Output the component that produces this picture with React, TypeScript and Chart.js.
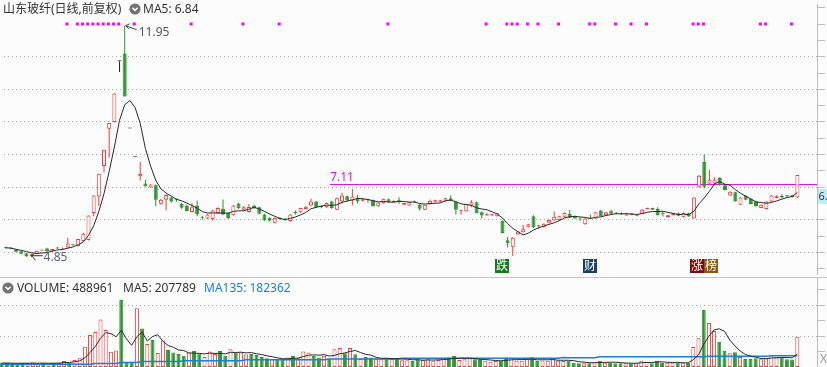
import React, { useEffect, useRef } from 'react';
import { Chart, registerables } from 'chart.js';

Chart.register(...registerables);

// ---------------- data ----------------
const TITLE = '山东玻纤(日线,前复权)';

const OPEN = [
  5.15, 5.13, 5.09, 5.03, 4.97, 4.88, 4.95, 5.06, 5.12, 5.03,
  5.13, 5.09, 5.15, 5.23, 5.19, 5.35, 5.38, 6.21, 6.71, 7.65,
  8.79, 9.00, 10.86, 11.10, 8.80, 7.92, 7.33, 7.11, 6.99, 7.06,
  6.49, 6.61, 6.68, 6.61, 6.48, 6.44, 6.24, 6.44, 6.07, 6.04,
  6.02, 6.21, 6.34, 6.21, 6.14, 6.50, 6.31, 6.24, 6.44, 6.38,
  6.16, 6.06, 5.91, 6.03, 6.01, 5.96, 6.24, 6.23, 6.33, 6.44,
  6.56, 6.40, 6.38, 6.56, 6.31, 6.56, 6.72, 6.58, 6.66, 6.58,
  6.61, 6.60, 6.41, 6.51, 6.63, 6.53, 6.60, 6.46, 6.44, 6.56,
  6.46, 6.31, 6.48, 6.55, 6.55, 6.58, 6.66, 6.56, 6.26, 6.26,
  6.44, 6.54, 6.23, 6.13, 6.13, 6.11, 5.96, 5.37, 5.17, 5.55,
  5.62, 5.77, 6.11, 5.81, 5.77, 5.91, 5.98, 5.99, 6.09, 6.18,
  6.11, 6.02, 5.86, 6.05, 6.04, 6.28, 6.14, 6.26, 6.20, 6.20,
  6.13, 6.19, 6.12, 6.19, 6.33, 6.36, 6.33, 6.19, 6.08, 6.14,
  6.20, 6.08, 6.20, 6.04, 7.01, 7.77, 7.11, 7.11, 7.28, 7.06,
  6.74, 6.84, 6.46, 6.74, 6.64, 6.56, 6.36, 6.33, 6.56, 6.67,
  6.73, 6.73, 6.75, 6.68,
];
const HIGH = [
  5.17, 5.15, 5.10, 5.05, 4.99, 4.96, 5.06, 5.08, 5.14, 5.11,
  5.16, 5.15, 5.45, 5.25, 5.42, 5.60, 6.13, 6.74, 7.41, 8.15,
  8.97, 9.87, 10.86, 11.95, 8.80, 7.92, 7.77, 7.23, 7.09, 7.08,
  6.64, 6.78, 6.70, 6.66, 6.52, 6.46, 6.51, 6.59, 6.12, 6.17,
  6.31, 6.38, 6.62, 6.23, 6.45, 6.52, 6.42, 6.48, 6.46, 6.40,
  6.18, 6.08, 6.07, 6.08, 6.06, 6.17, 6.28, 6.37, 6.42, 6.64,
  6.58, 6.44, 6.52, 6.58, 6.68, 6.83, 6.74, 6.94, 6.77, 6.64,
  6.64, 6.62, 6.54, 6.65, 6.65, 6.60, 6.69, 6.52, 6.55, 6.58,
  6.48, 6.47, 6.62, 6.61, 6.61, 6.67, 6.74, 6.58, 6.31, 6.49,
  6.60, 6.56, 6.25, 6.21, 6.18, 6.21, 5.98, 5.47, 5.46, 5.65,
  5.85, 5.87, 6.14, 5.85, 5.89, 5.99, 6.25, 6.12, 6.22, 6.30,
  6.13, 6.07, 6.05, 6.16, 6.24, 6.31, 6.24, 6.31, 6.23, 6.23,
  6.18, 6.20, 6.15, 6.32, 6.37, 6.37, 6.38, 6.27, 6.15, 6.21,
  6.22, 6.22, 6.22, 6.69, 7.37, 8.00, 7.53, 7.30, 7.31, 7.08,
  6.87, 6.86, 6.69, 6.76, 6.66, 6.58, 6.47, 6.57, 6.75, 6.75,
  6.79, 6.76, 6.77, 7.37,
];
const LOW = [
  5.12, 5.10, 5.00, 4.94, 4.86, 4.85, 4.94, 5.05, 5.00, 5.02,
  5.10, 5.08, 5.14, 5.20, 5.18, 5.33, 5.36, 6.11, 6.42, 7.45,
  7.90, 8.98, 10.53, 9.78, 8.80, 7.92, 7.20, 7.01, 6.98, 6.41,
  6.46, 6.28, 6.52, 6.55, 6.34, 6.25, 6.23, 6.11, 6.00, 6.02,
  5.98, 6.19, 6.14, 6.02, 6.12, 6.33, 6.30, 6.22, 6.33, 6.16,
  5.96, 5.95, 5.89, 6.00, 5.97, 5.94, 6.16, 6.21, 6.32, 6.42,
  6.37, 6.35, 6.36, 6.34, 6.30, 6.50, 6.57, 6.44, 6.50, 6.56,
  6.52, 6.40, 6.40, 6.50, 6.52, 6.52, 6.48, 6.45, 6.43, 6.52,
  6.28, 6.30, 6.47, 6.54, 6.54, 6.57, 6.57, 6.16, 6.16, 6.25,
  6.38, 6.20, 6.04, 6.12, 6.12, 6.10, 5.58, 5.15, 4.89, 5.54,
  5.61, 5.76, 5.75, 5.72, 5.76, 5.90, 5.97, 5.98, 6.08, 6.05,
  6.03, 5.97, 5.85, 6.02, 6.03, 6.10, 6.13, 6.17, 6.16, 6.16,
  6.12, 6.14, 6.11, 6.18, 6.32, 6.30, 6.13, 6.10, 6.07, 6.13,
  6.11, 6.07, 6.09, 6.03, 6.98, 6.96, 7.08, 7.10, 7.04, 6.90,
  6.73, 6.55, 6.45, 6.60, 6.47, 6.40, 6.35, 6.32, 6.55, 6.65,
  6.66, 6.69, 6.68, 6.66,
];
const CLOSE = [
  5.14, 5.12, 5.02, 4.96, 4.88, 4.94, 5.05, 5.07, 5.03, 5.10,
  5.12, 5.12, 5.27, 5.22, 5.41, 5.57, 6.13, 6.74, 7.41, 8.15,
  8.97, 9.87, 10.86, 9.78, 8.80, 7.92, 7.40, 7.03, 7.08, 6.61,
  6.61, 6.76, 6.56, 6.60, 6.37, 6.27, 6.38, 6.16, 6.06, 6.16,
  6.28, 6.36, 6.16, 6.05, 6.44, 6.35, 6.38, 6.39, 6.35, 6.18,
  5.98, 5.97, 6.05, 6.02, 6.00, 6.16, 6.20, 6.36, 6.40, 6.56,
  6.38, 6.39, 6.51, 6.36, 6.66, 6.74, 6.59, 6.71, 6.56, 6.63,
  6.60, 6.42, 6.53, 6.64, 6.53, 6.58, 6.54, 6.51, 6.54, 6.55,
  6.34, 6.46, 6.58, 6.60, 6.60, 6.66, 6.58, 6.31, 6.29, 6.48,
  6.54, 6.21, 6.13, 6.17, 6.17, 6.20, 5.59, 5.28, 5.45, 5.64,
  5.71, 5.86, 5.77, 5.80, 5.88, 5.99, 6.09, 6.11, 6.21, 6.06,
  6.04, 6.01, 6.04, 6.04, 6.23, 6.11, 6.23, 6.18, 6.19, 6.17,
  6.17, 6.15, 6.14, 6.31, 6.36, 6.31, 6.14, 6.18, 6.14, 6.20,
  6.12, 6.21, 6.10, 6.68, 7.35, 7.01, 7.23, 7.23, 7.06, 6.91,
  6.86, 6.56, 6.68, 6.61, 6.48, 6.41, 6.46, 6.56, 6.74, 6.72,
  6.68, 6.72, 6.70, 7.37,
];
const VOLUME = [
  64500, 64500, 56500, 56500, 64500, 64500, 72600, 48400, 64500, 56500,
  64500, 72600, 96800, 72600, 112900, 140300, 327400, 516100, 564500, 766100,
  596800, 246800, 266100, 1080600, 75800, 80600, 946800, 621000, 371000, 435500,
  225800, 427400, 274200, 233900, 209700, 180600, 233900, 258100, 217700, 161300,
  250000, 209700, 258100, 180600, 287100, 233900, 233900, 201600, 209700, 193500,
  161300, 140300, 125800, 121000, 121000, 153200, 177400, 140300, 250000, 233900,
  177400, 153200, 180600, 137100, 287100, 306500, 221000, 306500, 206500, 129000,
  161300, 153200, 132300, 125800, 137100, 129000, 145200, 108100, 108100, 96800,
  125800, 112900, 124200, 101600, 112900, 148400, 153200, 177400, 112900, 124200,
  140300, 124200, 112900, 101600, 85500, 96800, 101600, 153200, 140300, 101600,
  101600, 124200, 156500, 98500, 104300, 99800, 140300, 102400, 97600, 100900,
  69400, 59700, 59700, 59700, 85500, 101600, 69400, 69400, 59700, 59700,
  59700, 59700, 59700, 101600, 80600, 59700, 101600, 69400, 69400, 69400,
  69400, 59700, 69400, 322600, 462900, 919400, 709700, 580600, 408100, 261300,
  221000, 238700, 161300, 129000, 129000, 140300, 124200, 140300, 193500, 153200,
  153200, 124200, 119384, 488961,
];
const VOL_MA135 = [
  43500, 43500, 43500, 43500, 43500, 43500, 43500, 43500, 43500, 43500,
  43500, 43500, 43500, 43500, 43500, 43500, 43500, 43500, 56500, 56500,
  56500, 56500, 56500, 72600, 72600, 72600, 72600, 88700, 88700, 88700,
  88700, 88700, 88700, 88700, 88700, 101600, 101600, 101600, 101600, 101600,
  101600, 101600, 101600, 101600, 101600, 101600, 101600, 116100, 116100, 116100,
  116100, 116100, 116100, 116100, 116100, 116100, 116100, 116100, 116100, 116100,
  116100, 116100, 116100, 129000, 129000, 129000, 129000, 129000, 129000, 129000,
  129000, 129000, 129000, 129000, 129000, 129000, 129000, 141900, 141900, 141900,
  141900, 141900, 141900, 141900, 141900, 141900, 141900, 141900, 141900, 141900,
  141900, 141900, 141900, 141900, 141900, 141900, 141900, 141900, 141900, 141900,
  141900, 141900, 141900, 141900, 141900, 141900, 141900, 141900, 154800, 150000,
  150000, 150000, 150000, 150000, 150000, 164500, 164500, 164500, 164500, 164500,
  164500, 164500, 164500, 164500, 164500, 164500, 164500, 164500, 164500, 164500,
  164500, 164500, 164500, 164500, 164500, 164500, 174200, 174200, 174200, 174200,
  174200, 174200, 174200, 174200, 174200, 174200, 174200, 174200, 182362, 182362,
  182362, 182362, 182362, 182362,
];
const SIGNAL_DAYS = [12, 14, 15, 16, 17, 18, 19, 20, 21, 22, 25, 36, 46, 53, 74, 93, 97, 98, 99, 101,
  103, 107, 113, 114, 118, 121, 124, 133, 134, 135, 146, 147, 152];
const EVENT_DAYS = [96, 113, 135];
const EVENT_TEXT = [['跌'], ['财'], ['涨', '榜']];
const EVENT_COLORS = [['#16791a'], ['#173d6b'], ['#7a0c0c', '#8a5913']];
const PRICE_TICKS = [4.5, 5, 5.5, 6, 6.5, 7, 7.5, 8, 8.5, 9, 9.5, 10, 10.5, 11, 11.5, 12, 12.5];
const PRICE_GRID = [5, 6, 7, 8, 9, 10, 11];
const VOL_TICKS = [250000, 500000, 750000, 1000000, 1250000];
const VOL_GRID = [500000, 1000000];
const LEVEL_PRICE = 7.11;
const LEVEL_FROM_DAY = 62.7;
const TAG_PRICE = 6.72;

// ---------------- style ----------------
const W = 827;
const PRICE_H = 278;
const VOL_H = 89;
const AXIS_W = 10;
const X_MIN = -0.327;
const X_MAX = 156.788;
const PRICE_MIN = 4.3357;
const PRICE_MAX = 12.6169;
const VOL_MAX = 1435500;
const MARK_LEVEL = 0.926;
const BG = '#fcfcfc';
const RED = '#f23a3a';
const GREEN = '#2f912f';
const FLAT = '#222222';
const GRID = '#a9a9a9';
const AXIS = '#bcbcbc';
const MAGENTA = '#ff00ff';
const LEVEL_COLOR = '#e214e2';
const BLUE = '#1a7fd8';
const TEXT = '#333333';
const FONT = '"Noto Sans", "Noto Sans CJK SC", sans-serif';

Chart.defaults.font.family = FONT;

const DAYS = CLOSE.map((_, i) => i);
function movingAverage(values: number[], n: number) {
  return values.map((_, i) => {
    const s = values.slice(Math.max(0, i - n + 1), i + 1);
    return s.reduce((a, b) => a + b, 0) / s.length;
  });
}
const PRICE_MA5 = movingAverage(CLOSE, 5);
const VOL_MA5 = movingAverage(VOLUME, 5);
const dirOf = (i: number) => (CLOSE[i] > OPEN[i] ? 1 : CLOSE[i] < OPEN[i] ? -1 : 0);
const candleColor = DAYS.map((i) => (dirOf(i) > 0 ? RED : dirOf(i) < 0 ? GREEN : FLAT));
const bodyFill = DAYS.map((i) => (dirOf(i) > 0 ? BG : candleColor[i]));
const volUp = DAYS.map((i) => {
  const d = dirOf(i);
  if (d !== 0) return d > 0;
  return i === 0 || CLOSE[i] >= CLOSE[i - 1];
});

function axisY(ticks: number[], grid: number[], min: number, max: number) {
  return {
    type: 'linear',
    position: 'right',
    min,
    max,
    afterFit: (s: any) => { s.width = AXIS_W; },
    afterBuildTicks: (s: any) => { s.ticks = ticks.map((v) => ({ value: v })); },
    ticks: { display: false },
    grid: {
      color: (c: any) => (c.tick && grid.includes(c.tick.value) ? GRID : 'rgba(0,0,0,0)'),
      tickColor: AXIS,
      tickLength: 8,
      lineWidth: 1,
      drawTicks: true,
    },
    border: { display: true, color: AXIS, width: 1, dash: [1, 3] },
  };
}

const xAxis = { type: 'linear', min: X_MIN, max: X_MAX, display: false, offset: false, grid: { offset: false } };

const priceDecor = {
  id: 'priceDecor',
  beforeDatasetsDraw(chart: any) {
    const { ctx, chartArea, scales } = chart;
    const xs = scales.x;
    const ys = scales.y;
    const y = Math.round(ys.getPixelForValue(LEVEL_PRICE)) + 0.5;
    const x0 = xs.getPixelForValue(LEVEL_FROM_DAY);
    ctx.save();
    ctx.strokeStyle = LEVEL_COLOR;
    ctx.lineWidth = 1;
    ctx.beginPath();
    ctx.moveTo(x0, y);
    ctx.lineTo(chartArea.right, y);
    ctx.stroke();
    ctx.fillStyle = LEVEL_COLOR;
    ctx.font = `12px ${FONT}`;
    ctx.textAlign = 'left';
    ctx.textBaseline = 'alphabetic';
    ctx.fillText(LEVEL_PRICE.toFixed(2), x0, y - 4);
    ctx.restore();
  },
  afterDatasetsDraw(chart: any) {
    const { ctx, chartArea, scales } = chart;
    const xs = scales.x;
    const ys = scales.y;
    ctx.save();
    ctx.font = `12px ${FONT}`;
    ctx.lineWidth = 1;
    // highest price
    const hiDay = HIGH.indexOf(Math.max(...HIGH));
    const hx = xs.getPixelForValue(hiDay);
    const hy = ys.getPixelForValue(HIGH[hiDay]);
    ctx.strokeStyle = '#444';
    ctx.beginPath();
    ctx.moveTo(hx + 1, hy);
    ctx.lineTo(hx + 12, hy + 4);
    ctx.moveTo(hx + 1, hy);
    ctx.lineTo(hx + 5, hy - 2);
    ctx.moveTo(hx + 1, hy);
    ctx.lineTo(hx + 4, hy + 3);
    ctx.stroke();
    ctx.fillStyle = '#555';
    ctx.textAlign = 'left';
    ctx.textBaseline = 'middle';
    ctx.fillText(HIGH[hiDay].toFixed(2), hx + 14, hy + 7);
    // lowest price
    const loDay = LOW.indexOf(Math.min(...LOW));
    const lx = xs.getPixelForValue(loDay);
    const ly = ys.getPixelForValue(LOW[loDay]);
    ctx.strokeStyle = '#333';
    ctx.beginPath();
    ctx.moveTo(lx, ly - 1.5);
    ctx.lineTo(lx + 11, ly - 1.5);
    ctx.moveTo(lx, ly - 1.5);
    ctx.lineTo(lx + 3, ly - 4);
    ctx.moveTo(lx, ly - 1.5);
    ctx.lineTo(lx + 4, ly + 3);
    ctx.stroke();
    ctx.fillStyle = '#56647e';
    ctx.fillText(LOW[loDay].toFixed(2), lx + 12, ly);
    // event icons
    const bw = 14;
    const bh = 14;
    const bottom = chartArea.bottom - 1;
    EVENT_DAYS.forEach((d, k) => {
      const labels = EVENT_TEXT[k];
      const left = Math.round(xs.getPixelForValue(d) - (bw * labels.length) / 2);
      labels.forEach((t, j) => {
        const bx = left + j * bw;
        ctx.fillStyle = EVENT_COLORS[k][j];
        ctx.fillRect(bx, bottom - bh, bw, bh);
        ctx.fillStyle = '#ffffff';
        ctx.textAlign = 'center';
        ctx.textBaseline = 'middle';
        ctx.fillText(t, bx + bw / 2, bottom - bh / 2 + 0.5);
      });
    });
    ctx.restore();
  },
  afterDraw(chart: any) {
    const { ctx, chartArea, scales } = chart;
    const ys = scales.y;
    const ty = ys.getPixelForValue(TAG_PRICE);
    ctx.save();
    ctx.fillStyle = '#bdeef6';
    ctx.fillRect(chartArea.right + 1, Math.round(ty - 7.5), 40, 15);
    ctx.fillStyle = TEXT;
    ctx.font = `11px ${FONT}`;
    ctx.textAlign = 'left';
    ctx.textBaseline = 'middle';
    ctx.fillText(TAG_PRICE.toFixed(2), chartArea.right + 1.5, ty + 0.5);
    ctx.fillStyle = '#c4c4c4';
    ctx.fillRect(0, chart.height - 1, chart.width, 1);
    ctx.restore();
  },
};

const volDecor = {
  id: 'volDecor',
  afterDraw(chart: any) {
    const { ctx, chartArea } = chart;
    ctx.save();
    ctx.fillStyle = '#9a9a9a';
    ctx.font = `12px ${FONT}`;
    ctx.textAlign = 'left';
    ctx.textBaseline = 'alphabetic';
    ctx.fillText('X', chartArea.right + 3, chart.height - 4);
    ctx.restore();
  },
};

function priceConfig(): any {
  return {
    type: 'bar',
    data: {
      datasets: [
        {
          type: 'line', label: 'MA5', data: DAYS.map((i) => ({ x: i, y: PRICE_MA5[i] })),
          borderColor: '#2a2a2a', borderWidth: 1, pointRadius: 0, tension: 0, order: 0,
        },
        {
          type: 'scatter', label: 'signal', yAxisID: 'mk',
          data: SIGNAL_DAYS.map((d) => ({ x: d - 0.15, y: MARK_LEVEL })),
          pointStyle: 'rect', pointRadius: 2.1, pointBackgroundColor: MAGENTA, pointBorderWidth: 0, order: 0,
        },
        {
          type: 'bar', label: 'body',
          data: DAYS.map((i) => ({ x: i, y: [Math.min(OPEN[i], CLOSE[i]), Math.max(OPEN[i], CLOSE[i])] })),
          backgroundColor: bodyFill, borderColor: candleColor, borderWidth: 1, borderSkipped: false,
          barThickness: 4, maxBarThickness: 4, minBarLength: 1, grouped: false, inflateAmount: 0, order: 1,
        },
        {
          type: 'bar', label: 'wick',
          data: DAYS.map((i) => ({ x: i, y: [LOW[i], HIGH[i]] })),
          backgroundColor: candleColor, borderWidth: 0,
          barThickness: 1, maxBarThickness: 1, grouped: false, inflateAmount: 0, order: 2,
        },
      ],
    },
    options: {
      responsive: false,
      animation: false,
      devicePixelRatio: 1,
      events: [],
      layout: { padding: 0 },
      plugins: { legend: { display: false }, tooltip: { enabled: false }, title: { display: false } },
      scales: {
        x: xAxis,
        y: axisY(PRICE_TICKS, PRICE_GRID, PRICE_MIN, PRICE_MAX),
        mk: { type: 'linear', display: false, min: 0, max: 1 },
      },
    },
    plugins: [priceDecor],
  };
}

function volConfig(): any {
  return {
    type: 'bar',
    data: {
      datasets: [
        {
          type: 'line', label: 'MA5', data: DAYS.map((i) => ({ x: i, y: VOL_MA5[i] })),
          borderColor: '#2a2a2a', borderWidth: 1, pointRadius: 0, tension: 0, order: 0,
        },
        {
          type: 'line', label: 'MA135', data: DAYS.map((i) => ({ x: i, y: VOL_MA135[i] })),
          borderColor: BLUE, borderWidth: 1.5, pointRadius: 0, tension: 0, order: 0,
        },
        {
          type: 'bar', label: 'VOLUME', data: DAYS.map((i) => ({ x: i, y: VOLUME[i] })),
          backgroundColor: DAYS.map((i) => (volUp[i] ? BG : GREEN)),
          borderColor: DAYS.map((i) => (volUp[i] ? RED : GREEN)),
          borderWidth: 1, borderSkipped: false,
          barThickness: 4, maxBarThickness: 4, grouped: false, inflateAmount: 0, order: 1,
        },
      ],
    },
    options: {
      responsive: false,
      animation: false,
      devicePixelRatio: 1,
      events: [],
      layout: { padding: 0 },
      plugins: { legend: { display: false }, tooltip: { enabled: false } },
      scales: {
        x: xAxis,
        y: axisY(VOL_TICKS, VOL_GRID, 0, VOL_MAX),
      },
    },
    plugins: [volDecor],
  };
}

function Chevron({ left, top }: { left: number; top: number }) {
  return (
    <svg width={12} height={12} viewBox="0 0 12 12" style={{ position: 'absolute', left, top }}>
      <circle cx={6} cy={6} r={5.6} fill="#727272" />
      <polyline points="3.4,4.8 6,7.4 8.6,4.8" fill="none" stroke="#ffffff" strokeWidth={1.5} />
    </svg>
  );
}

const textStyle = (left: number, top: number, color: string): React.CSSProperties => ({
  position: 'absolute', left, top, fontSize: 12, lineHeight: '14px', color, whiteSpace: 'nowrap', fontFamily: FONT,
});

export default function App() {
  const priceRef = useRef<HTMLCanvasElement>(null);
  const volRef = useRef<HTMLCanvasElement>(null);

  useEffect(() => {
    const pc = new Chart(priceRef.current as HTMLCanvasElement, priceConfig());
    const vc = new Chart(volRef.current as HTMLCanvasElement, volConfig());
    return () => {
      pc.destroy();
      vc.destroy();
    };
  }, []);

  const ma5Last = PRICE_MA5[PRICE_MA5.length - 1].toFixed(2);
  const volLast = VOLUME[VOLUME.length - 1];
  const volMa5Last = Math.round(VOL_MA5[VOL_MA5.length - 1]);
  const ma135Last = VOL_MA135[VOL_MA135.length - 1];

  return (
    <div style={{ position: 'fixed', left: 0, top: 0, width: W, height: PRICE_H + VOL_H, background: BG, overflow: 'hidden' }}>
      <canvas ref={priceRef} width={W} height={PRICE_H} style={{ position: 'absolute', left: 0, top: 0, width: W, height: PRICE_H }} />
      <canvas ref={volRef} width={W} height={VOL_H} style={{ position: 'absolute', left: 0, top: PRICE_H, width: W, height: VOL_H }} />
      <div style={textStyle(3, 1.5, TEXT)}>{TITLE}</div>
      <Chevron left={129} top={3} />
      <div style={textStyle(143, 1.5, TEXT)}>{`MA5: ${ma5Last}`}</div>
      <Chevron left={2} top={282} />
      <div style={textStyle(17, 280.5, TEXT)}>{`VOLUME: ${volLast}`}</div>
      <div style={textStyle(123, 280.5, TEXT)}>{`MA5: ${volMa5Last}`}</div>
      <div style={textStyle(204, 280.5, BLUE)}>{`MA135: ${ma135Last}`}</div>
    </div>
  );
}
